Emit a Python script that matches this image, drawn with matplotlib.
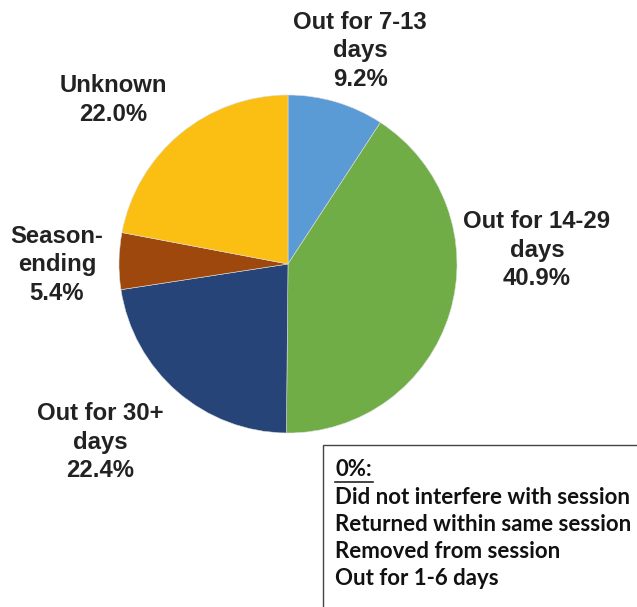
import matplotlib
matplotlib.use("Agg")
import matplotlib.pyplot as plt
from matplotlib.patches import Rectangle

categories = ["Out for 7-13\ndays", "Out for 14-29\ndays", "Out for 30+\ndays", "Season-\nending", "Unknown"]
values = [9.2, 40.9, 22.4, 5.4, 22.0]
colors = ["#5B9BD5", "#70AD47", "#264478", "#9E480E", "#FBBF14"]
zero_items = ["Did not interfere with session", "Returned within same session",
              "Removed from session", "Out for 1-6 days"]

W, H = 637, 607
fig = plt.figure(figsize=(W / 100, H / 100), dpi=100)
ax = fig.add_axes([0, 0, 1, 1])

cx, cy, r = 288, H - 264, 169
ax.pie(values, colors=colors, startangle=90, counterclock=False,
       center=(cx, cy), radius=r, frame=True,
       wedgeprops=dict(linewidth=0.4, edgecolor="#dddddd"))
ax.set_xlim(0, W)
ax.set_ylim(0, H)
ax.set_aspect("equal")
ax.axis("off")

label_pos = [(360, 51), (537, 250), (100, 442), (57, 265), (113, 100)]
for cat, v, (x, y) in zip(categories, values, label_pos):
    ax.text(x, H - y, f"{cat}\n{v:.1f}%", ha="center", va="center",
            fontsize=17.2, fontweight="bold", family="Liberation Sans",
            color="#222222", linespacing=1.3)

ax.add_patch(Rectangle((323, -5), 400, H - 445 + 5, fill=False,
                       edgecolor="#444444", linewidth=1.0, clip_on=True))
ax.text(335, H - 470, "0%:", ha="left", va="center", fontsize=16,
        fontweight="bold", family="Lato", color="#111111")
ax.plot([335, 373], [H - 482, H - 482], color="#111111", linewidth=1.1)
for i, item in enumerate(zero_items):
    ax.text(335, H - (497 + 27.3 * i), item, ha="left", va="center",
            fontsize=16, fontweight="bold", family="Lato", color="#111111")

fig.savefig("out.png", dpi=100)
